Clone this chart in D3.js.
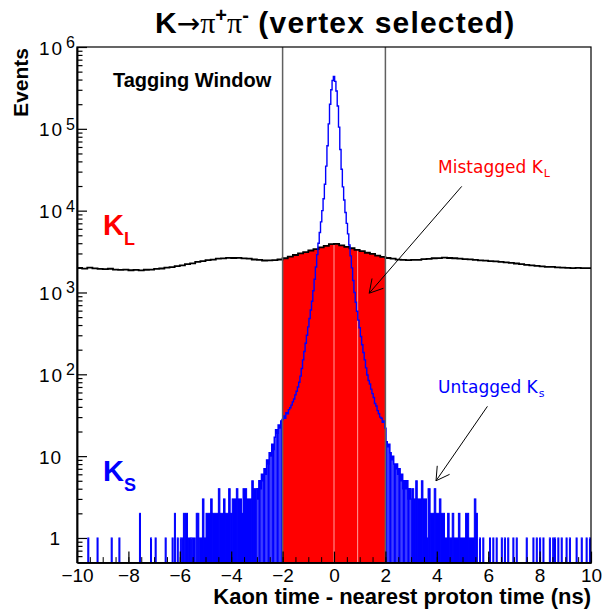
<!DOCTYPE html>
<html>
<head>
<meta charset="utf-8">
<script src="https://cdn.jsdelivr.net/npm/d3@7"></script>
<style>
  body { margin: 0; background: #fff; }
  text { font-family: "Liberation Sans", Arial, sans-serif; }
</style>
</head>
<body>
<script>
// ---- data ----
var xDomain = [-10, 10],
    yDomain = [0.5, 1e6];

var windowEdges = [-2, 2];

// K_L (black) histogram, 0.2 ns bins starting at -10
var klStart = -10, klWidth = 0.2;
var klCounts = [
  1995, 1960, 2010, 1970, 1945, 1930, 1950, 1905, 1890, 1900,
  1870, 1885, 1860, 1895, 1900, 1940, 1965, 2010, 2040, 2100,
  2140, 2220, 2270, 2360, 2410, 2490, 2520, 2590, 2610, 2650,
  2640, 2655, 2610, 2590, 2530, 2510, 2460, 2470, 2490, 2530,
  2620, 2750, 2870, 3010, 3120, 3260, 3390, 3560, 3720, 3900,
  3930, 3770, 3600, 3470, 3320, 3210, 3060, 2960, 2820, 2730,
  2640, 2590, 2520, 2510, 2480, 2500, 2510, 2560, 2570, 2620,
  2630, 2660, 2640, 2620, 2600, 2560, 2540, 2500, 2470, 2450,
  2420, 2400, 2370, 2330, 2300, 2260, 2220, 2180, 2150, 2110,
  2090, 2060, 2050, 2030, 2010, 2000, 1990, 2000, 1980, 1990
];

// K_S (blue) core, 0.05 ns bins centred from -3 to +3
var ksCenterStart = -3, ksWidth = 0.05;
var ksCore = [
  4, 3, 5, 4, 6, 5, 7, 6, 9, 8,
  11, 10, 14, 12, 17, 21, 19, 24, 22, 27,
  28, 31, 29, 34, 33, 37, 39, 42, 46, 50,
  56, 62, 70, 80, 95, 118, 150, 190, 240, 300,
  380, 480, 610, 780, 1050, 1450, 2050, 2900, 4000, 5400,
  7300, 10000, 14000, 21000, 35000, 62000, 115000, 200000, 300000, 390000,
  436000,
  380000, 290000, 190000, 105000, 56000, 32000, 19500, 13500, 9500, 7000,
  5200, 3800, 2800, 2000, 1400, 1000, 760, 590, 460, 370,
  290, 230, 185, 150, 120, 98, 84, 76, 66, 58,
  52, 44, 41, 36, 33, 30, 29, 26, 27, 22,
  15, 13, 14, 11, 9, 10, 8, 7, 8, 6,
  7, 5, 6, 4, 5, 4, 5, 3, 4, 3
];

// K_S sparse tails: [from, to, count]
var ksTail = [
  [-9.58, -9.54, 1], [-9.22, -9.18, 1], [-8.67, -8.63, 1], [-8.37, -8.33, 1],
  [-7.57, -7.53, 2], [-7.14, -7.10, 1], [-6.96, -6.92, 1], [-6.57, -6.53, 1],
  [-6.30, -6.26, 1], [-6.21, -6.17, 2], [-6.10, -6.06, 1], [-5.98, -5.94, 1],
  [-5.91, -5.87, 1], [-5.86, -5.82, 2], [-5.78, -5.70, 2], [-5.66, -5.60, 1],
  [-5.58, -5.54, 1], [-5.52, -5.40, 1], [-5.36, -5.32, 2], [-5.30, -5.26, 2],
  [-5.24, -5.12, 1], [-5.12, -5.06, 3], [-5.06, -4.98, 1], [-4.98, -4.80, 2],
  [-4.80, -4.74, 3], [-4.74, -4.50, 2], [-4.50, -4.44, 4], [-4.44, -4.30, 2],
  [-4.30, -4.24, 3], [-4.24, -4.10, 2], [-4.10, -4.04, 4], [-4.04, -3.96, 2],
  [-3.96, -3.80, 3], [-3.80, -3.74, 4], [-3.74, -3.60, 3], [-3.60, -3.54, 2],
  [-3.54, -3.40, 4], [-3.40, -3.20, 3], [-3.20, -3.14, 5], [-3.14, -3.025, 4],
  [3.025, 3.10, 4], [3.10, 3.18, 3], [3.18, 3.24, 5], [3.24, 3.40, 3],
  [3.40, 3.46, 5], [3.46, 3.60, 3], [3.60, 3.66, 1], [3.66, 3.74, 4],
  [3.74, 3.90, 2], [3.90, 3.96, 4], [3.96, 4.10, 2], [4.10, 4.16, 3],
  [4.16, 4.30, 2],
  [4.30, 4.42, 1], [4.42, 4.48, 2], [4.48, 4.60, 1], [4.60, 4.66, 2],
  [4.66, 4.84, 1], [4.84, 4.90, 2], [4.90, 5.12, 1], [5.12, 5.24, 2],
  [5.24, 5.46, 1], [5.46, 5.52, 3], [5.52, 5.58, 2],
  [5.66, 5.70, 1], [5.79, 5.83, 1], [6.05, 6.09, 1], [6.18, 6.22, 1],
  [6.31, 6.35, 1], [6.51, 6.55, 1], [6.63, 6.67, 1], [6.76, 6.80, 1],
  [6.96, 7.00, 1], [7.09, 7.13, 1], [7.48, 7.52, 1], [7.74, 7.78, 1],
  [7.87, 7.91, 1], [8.00, 8.04, 1], [8.13, 8.17, 1], [8.38, 8.42, 1],
  [8.51, 8.55, 1], [8.58, 8.62, 1], [8.71, 8.75, 1], [8.84, 8.88, 1],
  [9.03, 9.07, 1], [9.16, 9.20, 1], [9.42, 9.46, 1], [9.62, 9.66, 1],
  [9.81, 9.85, 1], [9.94, 9.98, 1]
];

// thin light seams seen inside the red fill
var redSeams = [0, 0.92];

// tick positions
var yMajor = [1, 10, 100, 1e3, 1e4, 1e5, 1e6];
var xMajor = d3.range(-10, 10.01, 2);
var xMinor = d3.range(-10, 10.01, 0.5);

// annotations, in data units
var notes = {
  tagging: [-8.6, 3.2e5],
  kl: [-8.99, 5070],
  ks: [-8.99, 4.94],
  mistag: [4.05, 29000],
  untag: [4.05, 59.7]
};
var arrows = [
  [[4.97, 19800], [1.37, 980]],
  [[5.97, 40.6], [3.97, 5.0]]
];

drawChart();

function drawChart(){
  var width = 603, height = 615;
  var pl = 77, pr = 591, pt = 47, pb = 562.6;

  var svg = d3.select("body").append("svg")
      .attr("width", width)
      .attr("height", height);

  var x = d3.scaleLinear().domain(xDomain).range([pl, pr]);
  var y = d3.scaleLog().domain(yDomain).range([pb, pt]);

  svg.append("clipPath").attr("id", "clip")
    .append("rect").attr("x", pl).attr("y", pt)
    .attr("width", pr - pl).attr("height", pb - pt);
  var plot = svg.append("g").attr("clip-path", "url(#clip)");

  // bins as [x0, x1, value]
  var klBins = klCounts.map(function(v, i){
    return [klStart + i * klWidth, klStart + (i + 1) * klWidth, v];
  });
  var ksBins = ksCore.map(function(v, i){
    var c = ksCenterStart + i * ksWidth;
    return [c - ksWidth / 2, c + ksWidth / 2, v];
  });

  function stepPoints(bins){
    var pts = [];
    bins.forEach(function(b){ pts.push([b[0], b[2]]); pts.push([b[1], b[2]]); });
    return pts;
  }

  // red fill: K_L inside the tagging window
  var inWin = klBins.filter(function(b){
    return b[0] >= windowEdges[0] - 1e-9 && b[1] <= windowEdges[1] + 1e-9;
  });
  plot.append("path")
    .datum(stepPoints(inWin))
    .attr("fill", "#ff0000")
    .attr("d", d3.area()
      .x(function(d){ return x(d[0]); })
      .y0(pb)
      .y1(function(d){ return y(d[1]); }));

  // light seams
  function klAt(t){
    var i = Math.min(klCounts.length - 1, Math.floor((t - klStart) / klWidth));
    return klCounts[i];
  }
  plot.selectAll(".seam").data(redSeams).enter().append("line")
    .attr("x1", function(d){ return x(d); }).attr("x2", function(d){ return x(d); })
    .attr("y1", pb).attr("y2", function(d){ return y(klAt(d)); })
    .attr("stroke", "#ff9f9f").attr("stroke-width", 1);

  // blue fill outside the window
  plot.selectAll(".ksfill")
    .data(ksBins.filter(function(b){ return b[1] <= windowEdges[0] || b[0] >= windowEdges[1]; }))
    .enter().append("rect")
    .attr("x", function(d){ return x(d[0]); })
    .attr("width", function(d){ return x(d[1]) - x(d[0]); })
    .attr("y", function(d){ return y(d[2]); })
    .attr("height", function(d){ return pb - y(d[2]); })
    .attr("fill", "#0000ff");

  plot.selectAll(".kstail").data(ksTail).enter().append("rect")
    .attr("x", function(d){ return x(d[0]); })
    .attr("width", function(d){ return x(d[1]) - x(d[0]); })
    .attr("y", function(d){ return y(d[2]); })
    .attr("height", function(d){ return pb - y(d[2]); })
    .attr("fill", "#0000ff")
    .attr("stroke", "#0000ff")
    .attr("stroke-width", 1);

  var line = d3.line()
    .x(function(d){ return x(d[0]); })
    .y(function(d){ return y(d[1]); });

  // black K_L line
  plot.append("path")
    .datum(stepPoints(klBins))
    .attr("fill", "none")
    .attr("stroke", "#000")
    .attr("stroke-width", 1.8)
    .attr("d", line);

  // blue K_S outline
  plot.append("path")
    .datum(stepPoints(ksBins))
    .attr("fill", "none")
    .attr("stroke", "#0000ff")
    .attr("stroke-width", 1.4)
    .attr("d", line);

  // tagging window lines
  svg.selectAll(".win").data(windowEdges).enter().append("line")
    .attr("x1", function(d){ return x(d); }).attr("x2", function(d){ return x(d); })
    .attr("y1", pt).attr("y2", pb)
    .attr("stroke", "#606060").attr("stroke-width", 1.5);

  // frame
  svg.append("rect")
    .attr("x", pl).attr("y", pt)
    .attr("width", pr - pl).attr("height", pb - pt)
    .attr("fill", "none").attr("stroke", "#000").attr("stroke-width", 1.2);

  // y axis ticks (inward)
  var yMinor = [0.6, 0.7, 0.8, 0.9];
  yMajor.slice(0, -1).forEach(function(d){
    for (var k = 2; k <= 9; k++) yMinor.push(d * k);
  });

  var yAxisMajor = svg.append("g").attr("transform", "translate(" + pl + ",0)")
    .call(d3.axisLeft(y).tickValues(yMajor).tickSize(-10).tickSizeOuter(0).tickFormat(""));
  var yAxisMinor = svg.append("g").attr("transform", "translate(" + pl + ",0)")
    .call(d3.axisLeft(y).tickValues(yMinor).tickSize(-5.5).tickSizeOuter(0).tickFormat(""));
  [yAxisMajor, yAxisMinor].forEach(function(g){
    g.select(".domain").attr("stroke-width", 1.5);
    g.selectAll(".tick line").attr("stroke-width", 1.2);
  });

  // y labels
  var yLab = svg.append("g").attr("font-size", 19);
  yMajor.forEach(function(d){
    var e = Math.round(Math.log10(d));
    var yy = y(d);
    if (e === 0) {
      yLab.append("text").attr("x", 60).attr("y", yy + 7.5).attr("text-anchor", "end").text("1");
    } else if (e === 1) {
      yLab.append("text").attr("x", 39).attr("y", yy + 7.5)
        .attr("letter-spacing", 1).text("10");
    } else {
      yLab.append("text").attr("x", 39).attr("y", yy + 7.5)
        .attr("letter-spacing", 2).text("10");
      yLab.append("text").attr("x", 66).attr("y", yy + 1).attr("font-size", 16).text(e);
    }
  });

  // x axis ticks (inward)
  var xAxisMajor = svg.append("g").attr("transform", "translate(0," + pb + ")")
    .call(d3.axisBottom(x).tickValues(xMajor).tickSize(-11).tickSizeOuter(0).tickPadding(6));
  svg.append("g").attr("transform", "translate(0," + pb + ")")
    .call(d3.axisBottom(x).tickValues(xMinor).tickSize(-5.5).tickSizeOuter(0).tickFormat(""))
    .call(function(g){ g.select(".domain").attr("stroke-width", 1.5); });
  xAxisMajor.select(".domain").attr("stroke-width", 1.5);
  xAxisMajor.selectAll(".tick line").attr("stroke-width", 1.2);
  xAxisMajor.selectAll(".tick text")
    .attr("font-size", 19)
    .attr("font-family", "Liberation Sans, Arial, sans-serif")
    .attr("fill", "#000");

  // axis titles
  svg.append("text")
    .attr("x", pr).attr("y", 604)
    .attr("text-anchor", "end")
    .attr("font-size", 22).attr("font-weight", "bold")
    .text("Kaon time - nearest proton time (ns)");

  svg.append("text")
    .attr("transform", "translate(28,48) rotate(-90)")
    .attr("text-anchor", "end")
    .attr("font-size", 21).attr("font-weight", "bold")
    .text("Events");

  // title
  var title = svg.append("text")
    .attr("x", 155).attr("y", 33)
    .attr("font-size", 30).attr("font-weight", "bold");
  title.append("tspan").text("K");
  title.append("tspan").attr("font-weight", "normal").attr("font-size", 28)
    .attr("font-family", "DejaVu Sans, sans-serif").text("\u2192");
  title.append("tspan").attr("font-weight", "normal")
    .attr("font-family", "Liberation Serif, serif").text("\u03c0");
  title.append("tspan").attr("font-size", 20).attr("dy", -11).text("+");
  title.append("tspan").attr("dy", 11).attr("font-weight", "normal")
    .attr("font-family", "Liberation Serif, serif").text("\u03c0");
  title.append("tspan").attr("font-size", 20).attr("dy", -11).text("-");
  title.append("tspan").attr("dy", 11).attr("letter-spacing", 1.2).text(" (vertex selected)");

  // annotations
  svg.append("text")
    .attr("x", x(notes.tagging[0])).attr("y", y(notes.tagging[1]))
    .attr("font-size", 20).attr("font-weight", "bold")
    .text("Tagging Window");

  function bigK(pos, sub, color){
    var t = svg.append("text")
      .attr("x", x(pos[0])).attr("y", y(pos[1]))
      .attr("font-weight", "bold").attr("fill", color);
    t.append("tspan").attr("font-size", 29).text("K");
    t.append("tspan").attr("font-size", 18).attr("dy", 10).text(sub);
  }
  bigK(notes.kl, "L", "#ff0000");
  bigK(notes.ks, "S", "#0000ff");

  function smallNote(pos, main, sub, color){
    var t = svg.append("text")
      .attr("x", x(pos[0])).attr("y", y(pos[1]))
      .attr("fill", color)
      .style("font-family", "'DejaVu Sans', sans-serif")
      .attr("font-size", 17);
    t.append("tspan").text(main);
    t.append("tspan").attr("font-size", 11).attr("dx", 1).attr("dy", 4).text(sub);
  }
  smallNote(notes.mistag, "Mistagged K", "L", "#ff0000");
  smallNote(notes.untag, "Untagged K", "s", "#0000ff");

  // arrows
  arrows.forEach(function(a){
    var x1 = x(a[0][0]), y1 = y(a[0][1]), x2 = x(a[1][0]), y2 = y(a[1][1]);
    svg.append("line")
      .attr("x1", x1).attr("y1", y1).attr("x2", x2).attr("y2", y2)
      .attr("stroke", "#000").attr("stroke-width", 1);
    var ang = Math.atan2(y1 - y2, x1 - x2), len = 15, spread = Math.PI / 6;
    [-spread, spread].forEach(function(s){
      svg.append("line")
        .attr("x1", x2).attr("y1", y2)
        .attr("x2", x2 + len * Math.cos(ang + s))
        .attr("y2", y2 + len * Math.sin(ang + s))
        .attr("stroke", "#000").attr("stroke-width", 1);
    });
  });
}
</script>
</body>
</html>
